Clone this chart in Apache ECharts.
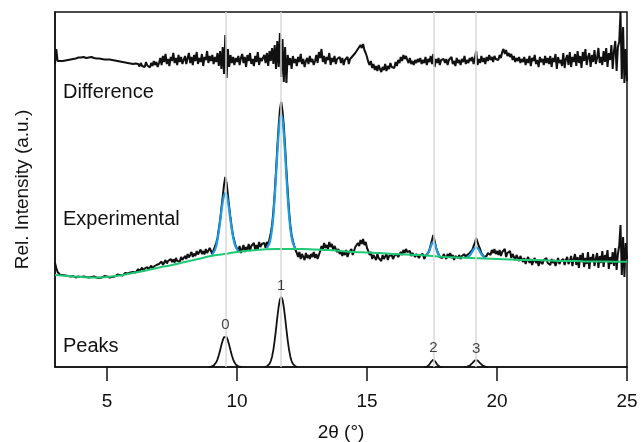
<!DOCTYPE html>
<html><head><meta charset="utf-8">
<script src="https://cdn.jsdelivr.net/npm/echarts@6/dist/echarts.min.js"></script>
<style>html,body{margin:0;padding:0;background:#fff}#c{width:642px;height:442px}</style>
</head><body><div id="c"></div>
<script>
// x grid of the measured traces: 3.00 .. 25.00 step 0.05
const xStart = 3, xStep = 0.05;
const xTicks = [5, 10, 15, 20, 25];

const experimental = [
104,99,95,93,92,91.5,92,91,91.5,90.5,91,91.5,90.5,90,91,90.5,89.5,90,90.5,89.5,
90,89.5,90.5,89,90,90.5,89.5,89,90,89.5,90.5,89,89.5,90,89,90.5,89.5,90,91,89.5,
90.5,91,89.5,91.5,90,92,90.5,91,92.5,91,92,93,91.5,92.5,94,92,93.5,92.5,94.5,93,
95,97,94.5,96.5,98,95.5,97,99.5,96,98.5,97,100,97.5,99,101.5,98,100.5,99,102,100,
103,101,105.5,102,104,107,103.5,106,104,108,105,107.5,104.5,109,106,108,105.5,110,107,109,
111,108,113,109.5,112,115,110,113.5,111,116,112.5,114,117.5,113,116,112.5,118,114,116.5,119,
116,113,117,119,124,129,138,147,159,170,182,190,184,172,160,149,139,131,126,121,
119,116,121,114,118,122,115,120,117,123,116,121,119,124,117,122,118,125,120,123,
121,124,119,125,122,128,134,142,156,174,196,219,240,257,265,256,241,220,197,176,
157,142,132,126,121,117,114,110,115,108,113,111,107,114,109,112,108,113,110,115,
109,113,108,112,116,121,117,124,119,122,118,125,120,123,117,121,119,115,118,113,
116,111,115,112,117,110,114,113,118,112,116,120,118,124,121,127,123,128,122,125,
119,116,112,115,108,112,110,107,113,109,111,106,112,108,110,113,107,111,109,112,
108,111,109,113,110,112,115,112,117,114,118,115,113,116,111,114,112,110,113,111,
109,112,110,113,108,111,113,114,117,122,127,132,126,120,116,113,110,112,109,113,
111,108,113,110,114,109,112,107,111,113,109,112,108,111,110,113,109,112,111,114,
115,117,121,124,129,125,121,118,114,112,110,108,111,114,116,112,117,114,118,113,
116,112,117,111,115,113,118,110,114,112,116,109,113,111,107,112,109,106,111,108,
105,109,103,107,110,104,108,102,106,109,104,107,101,106,108,103,107,105,109,104,
106,102,108,104,107,101,105,109,103,106,104,108,102,107,110,103,106,111,101,108,
113,102,110,99,112,105,114,100,109,103,115,98,110,106,113,101,108,114,99,111,
104,116,100,112,106,117,98,110,103,115,101,119,97,113,121,142,92,130,90,124,
108];

const difference = [
303,318,306,305,306,306.5,306,307,306.5,307.5,307,308,307.5,308.5,308,309,308.5,309,309.5,309,
309.5,309,310,309.5,309,310,309.5,309,310,309.5,309,309.5,308.5,309,308.5,309,308,308.5,307.5,308,
307.5,307,307.5,306.5,307,306,306.5,305.5,306,305,305.5,304.5,305,304,304.5,303.5,304,303,303.5,302.5,
303,302,303.5,301.5,303,300.5,304,301,303,300,305,301.5,303.5,299.5,304,301,306,302,305,300,
304,309,302,311,305,313,303,308,301,310,306,314,304,309,302,312,305,310,303,307,
311,303,309,314,304,310,302,312,306,315,303,309,305,313,301,310,307,316,304,311,
306,312,303,310,305,314,301,316,298,320,293,332,289,318,300,312,304,310,302,309,
305,311,302,309,313,304,310,300,312,306,314,303,308,301,311,305,315,302,309,306,
308,312,304,314,301,316,306,319,303,322,298,326,300,334,290,328,285,320,284,312,
302,309,298,311,304,308,301,310,305,313,303,308,300,306,309,303,311,305,308,302,
306,312,304,315,309,318,305,311,303,310,307,314,302,309,305,311,303,308,306,310,
304,309,302,307,305,310,303,308,306,311,309,314,312,318,316,322,319,323,317,314,
310,305,302,306,299,303,297,301,296,302,298,295,300,297,303,296,301,298,304,300,
302,299,305,301,307,304,310,306,312,308,311,307,304,309,303,306,302,307,304,308,
305,309,303,307,304,310,302,308,305,311,303,313,300,308,304,309,302,307,305,308,
304,308,302,307,305,310,303,306,301,309,304,307,302,308,305,311,303,307,304,309,
306,310,303,309,316,302,308,304,311,305,309,303,310,306,312,307,310,305,311,308,
310,307,312,309,315,318,313,317,311,314,310,313,307,311,305,309,306,310,304,308,
305,310,302,308,304,311,301,309,306,312,303,307,300,310,305,308,302,311,304,309,
303,311,300,309,305,313,298,310,304,307,301,314,299,308,312,302,315,300,310,305,
313,301,316,304,311,299,315,306,318,302,310,314,300,312,305,317,303,309,319,304,
310,302,316,305,319,300,314,307,322,298,316,326,296,320,325,355,288,340,284,318,
286];

// background (green)
const bgX = [3,3.5,4,4.5,5,5.5,6,6.5,7,7.5,8,8.5,9,9.5,10,10.5,11,11.5,12,12.5,13,13.5,14,14.5,15,15.5,16,16.5,17,17.5,18,18.5,19,19.5,20,20.5,21,21.5,22,22.5,23,23.5,24,24.5,25];
const bgY = [92,91,90,89.5,90,91.5,94,96.5,99.5,102,105,108,111,113,115,116.5,117.5,118,118,118,117.5,117,116,115,114.5,114,113,112.5,112,111,110,109.5,109,108.5,108,107.5,107,107,106.5,106,106,105.5,105.5,105.3,105.3];

// fitted peaks on top of background (blue), step 0.05
const fitStarts = [9.05, 11.15, 17.30, 18.85];
const fit0 = [112.5,114.1,116.8,121,127.2,135.4,145.3,155.7,165.1,171.7,174.2,172.1,165.9,156.9,146.9,137.4,129.6,123.8,120,117.7,116.4];
const fit1 = [119.1,120.6,123.8,129.4,138.3,151.6,169.4,190.8,213.4,233.7,247.9,253,247.9,233.7,213.4,190.8,169.4,151.6,138.3,129.4,123.8,120.6,119.1];
const fit2 = [112.1,113.4,116,120,123.9,125.4,123.6,119.5,115.3,112.5,111];
const fit3 = [109.6,110.2,111.3,113.1,115.3,117.7,119.4,120.1,119.3,117.5,115,112.7,110.8,109.6,108.9];

// individual peaks (bottom panel), step 0.05
const peakStarts = [8.90, 11.05, 17.20, 18.75];
const peak0 = [0,0.1,0.3,0.7,1.4,2.6,4.7,7.7,11.8,16.7,21.9,26.6,29.8,31,29.8,26.6,21.9,16.7,11.8,7.7,4.7,2.6,1.4,0.7,0.3,0.1,0];
const peak1 = [0,0.3,0.7,1.5,3.1,6,10.6,17.4,26.7,37.7,49.5,60,67.3,70,67.3,60,49.5,37.7,26.7,17.4,10.6,6,3.1,1.5,0.7,0.3,0];
const peak2 = [0,0.1,0.3,1.0,2.4,4.6,6.6,7.5,6.6,4.6,2.4,1.0,0.3,0.1,0];
const peak3 = [0,0.1,0.3,0.7,1.4,2.5,3.9,5.4,6.6,7,6.6,5.4,3.9,2.5,1.4,0.7,0.3,0.1,0];

const peakPos = [9.55, 11.70, 17.55, 19.20];
const peakTop = [31, 70, 7.5, 7];
const peakNames = ['0', '1', '2', '3'];

const panelNames = ['Difference', 'Experimental', 'Peaks'];

function seq(start, vals) {
  return vals.map((v, i) => [+(start + i * xStep).toFixed(3), v]);
}

const FONT = 'Liberation Sans, Arial, sans-serif';
const chart = echarts.init(document.getElementById('c'));

const series = [];
series.push({
  type: 'line', data: [[peakPos[0], 0]], symbol: 'none', z: 1, silent: true,
  lineStyle: { width: 0 },
  markLine: {
    symbol: 'none', silent: true, animation: false,
    label: { show: false },
    lineStyle: { color: '#d9d9d9', width: 1.5, type: 'solid' },
    data: peakPos.map(p => ({ xAxis: p }))
  }
});
series.push({ type: 'line', data: seq(xStart, experimental), showSymbol: false, z: 2,
  lineStyle: { color: '#111', width: 2 } });
series.push({ type: 'line', data: seq(xStart, difference), showSymbol: false, z: 2,
  lineStyle: { color: '#111', width: 2 } });
[fit0, fit1, fit2, fit3].forEach((f, k) => {
  series.push({ type: 'line', data: seq(fitStarts[k], f), showSymbol: false, z: 3,
    lineStyle: { color: '#1c9ce4', width: 2.2 } });
});
series.push({ type: 'line', data: bgX.map((x, i) => [x, bgY[i]]), showSymbol: false, smooth: true, z: 4,
  lineStyle: { color: '#1ec875', width: 2 } });
[peak0, peak1, peak2, peak3].forEach((p, k) => {
  series.push({ type: 'line', data: seq(peakStarts[k], p), showSymbol: false, z: 3,
    lineStyle: { color: '#111', width: 1.8 } });
});
series.push({
  type: 'scatter', symbolSize: 0, z: 5,
  data: peakPos.map((p, i) => ({ value: [p, peakTop[i]], name: peakNames[i] })),
  label: { show: true, position: 'top', distance: 4, formatter: p => p.name,
    fontFamily: FONT, fontSize: 15, color: '#111' }
});

chart.setOption({
  animation: false,
  backgroundColor: '#fff',
  grid: { left: 55, right: 15, top: 12, bottom: 75, show: true, borderColor: '#111', borderWidth: 1.5,
    outerBoundsMode: 'none', containLabel: false },
  xAxis: {
    type: 'value', min: 3, max: 25,
    name: '2θ (°)', nameLocation: 'middle', nameGap: 56,
    nameTextStyle: { fontFamily: FONT, fontSize: 19, color: '#111' },
    axisLine: { lineStyle: { color: '#111', width: 1.5 } },
    axisTick: { show: true, length: 14, customValues: xTicks, lineStyle: { color: '#111', width: 1.5 } },
    axisLabel: { customValues: xTicks, margin: 25, fontFamily: FONT, fontSize: 19, color: '#111' },
    splitLine: { show: false }
  },
  yAxis: {
    type: 'value', min: 0, max: 355,
    name: 'Rel. Intensity (a.u.)', nameLocation: 'middle', nameGap: 23,
    nameTextStyle: { fontFamily: FONT, fontSize: 19, color: '#111' },
    axisLine: { show: true, lineStyle: { color: '#111', width: 1.5 } },
    axisTick: { show: false }, axisLabel: { show: false }, splitLine: { show: false }
  },
  graphic: [
    { type: 'text', left: 63, top: 82, style: { text: panelNames[0], font: '20px ' + FONT, fill: '#111' } },
    { type: 'text', left: 63, top: 209, style: { text: panelNames[1], font: '20px ' + FONT, fill: '#111' } },
    { type: 'text', left: 63, top: 336, style: { text: panelNames[2], font: '20px ' + FONT, fill: '#111' } }
  ],
  series: series
});
</script>
</body></html>
